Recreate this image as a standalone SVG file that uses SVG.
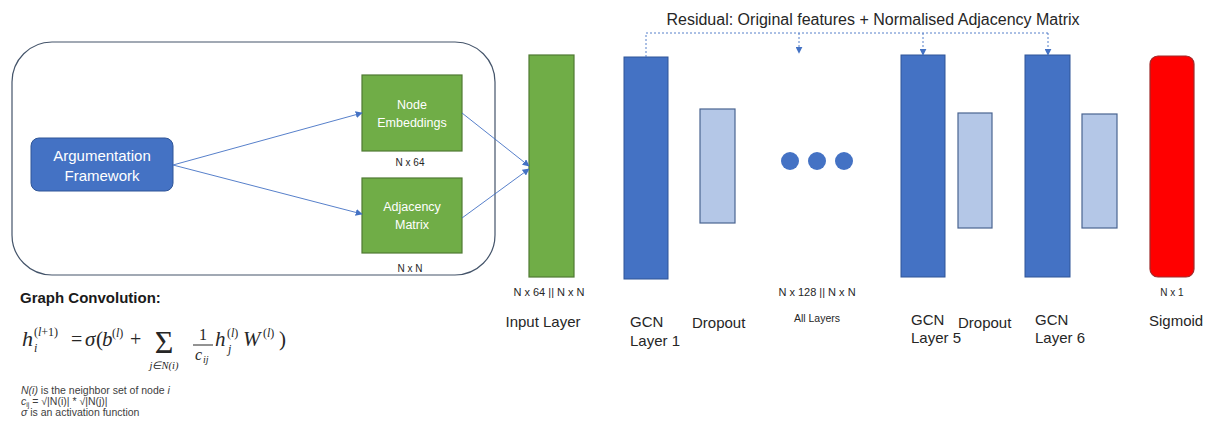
<svg xmlns="http://www.w3.org/2000/svg" width="1207" height="424" viewBox="0 0 1207 424">
<style>
.lbl{font-family:"Liberation Sans",Arial,sans-serif;fill:#262626}
.w{font-family:"Liberation Sans",Arial,sans-serif;fill:#ffffff;text-anchor:middle}
.blue{fill:#4472c4;stroke:#2f5597;stroke-width:1}
.light{fill:#b4c7e7;stroke:#4a6491;stroke-width:1.2}
.green{fill:#70ad47;stroke:#4f7a32;stroke-width:1.2}
.conn{stroke:#4472c4;stroke-width:0.9;fill:none}
.dash{stroke:#4472c4;stroke-width:0.9;fill:none;stroke-dasharray:2 2}
.m{font-family:"Liberation Serif","Times New Roman",serif;fill:#262626}
.mi{font-family:"Liberation Serif","Times New Roman",serif;font-style:italic;fill:#262626}
.s{font-family:"Liberation Sans",Arial,sans-serif;fill:#404040;font-size:10.5px}
</style>
<defs>
<marker id="ah" viewBox="0 0 10 10" refX="9" refY="5" markerWidth="7" markerHeight="7" orient="auto" markerUnits="userSpaceOnUse">
<path d="M0,0 L10,5 L0,10 z" fill="#4472c4"/>
</marker>
</defs>
<rect width="1207" height="424" fill="#ffffff"/>

<g id="container">
<rect x="12" y="42" width="483" height="233" rx="40" ry="40" fill="none" stroke="#44546a" stroke-width="1.2"/>
</g>

<g id="argumentation-framework">
<rect x="31" y="138" width="142" height="53" rx="8" ry="8" fill="#4472c4" stroke="#2f5597" stroke-width="1"/>
<text class="w" x="102" y="161" font-size="15">Argumentation</text>
<text class="w" x="102" y="181" font-size="15">Framework</text>
</g>

<g id="node-embeddings">
<rect x="362" y="75" width="100" height="76" class="green"/>
<text class="w" x="412" y="109" font-size="12.5">Node</text>
<text class="w" x="412" y="127" font-size="12.5">Embeddings</text>
<text class="lbl" x="410" y="166" font-size="10" text-anchor="middle">N x 64</text>
</g>

<g id="adjacency-matrix">
<rect x="362" y="178" width="100" height="75" class="green"/>
<text class="w" x="412" y="211" font-size="12.5">Adjacency</text>
<text class="w" x="412" y="229" font-size="12.5">Matrix</text>
<text class="lbl" x="410" y="272" font-size="10" text-anchor="middle">N x N</text>
</g>

<g id="input-layer">
<rect x="529" y="55" width="45" height="222" class="green"/>
<text class="lbl" x="549" y="296" font-size="11" text-anchor="middle">N x 64 || N x N</text>
<text class="lbl" x="543" y="327" font-size="15" text-anchor="middle">Input Layer</text>
</g>

<g id="gcn-layer-1">
<rect x="624" y="57" width="44" height="222" class="blue"/>
<text class="lbl" x="630" y="327" font-size="15">GCN</text>
<text class="lbl" x="630" y="346" font-size="15">Layer 1</text>
</g>

<g id="dropout-1">
<rect x="700" y="109" width="35" height="114" class="light"/>
<text class="lbl" x="692" y="328" font-size="15">Dropout</text>
</g>

<g id="all-layers">
<circle cx="790" cy="161" r="9" fill="#4472c4"/>
<circle cx="817" cy="161" r="9" fill="#4472c4"/>
<circle cx="844" cy="161" r="9" fill="#4472c4"/>
<text class="lbl" x="817" y="296" font-size="11" text-anchor="middle">N x 128 || N x N</text>
<text class="lbl" x="817" y="322" font-size="10.5" text-anchor="middle">All Layers</text>
</g>

<g id="gcn-layer-5">
<rect x="901" y="55" width="44" height="222" class="blue"/>
<text class="lbl" x="911" y="325" font-size="15">GCN</text>
<text class="lbl" x="911" y="343" font-size="15">Layer 5</text>
</g>

<g id="dropout-5">
<rect x="958" y="113" width="34" height="115" class="light"/>
<text class="lbl" x="958" y="328" font-size="15">Dropout</text>
</g>

<g id="gcn-layer-6">
<rect x="1025" y="55" width="45" height="222" class="blue"/>
<text class="lbl" x="1035" y="325" font-size="15">GCN</text>
<text class="lbl" x="1035" y="343" font-size="15">Layer 6</text>
</g>

<g id="dropout-6">
<rect x="1082" y="114" width="35" height="114" class="light"/>
</g>

<g id="sigmoid">
<rect x="1150" y="56" width="44" height="221" rx="8" ry="8" fill="#ff0000" stroke="#a02b2b" stroke-width="1.2"/>
<text class="lbl" x="1172" y="296" font-size="10" text-anchor="middle">N x 1</text>
<text class="lbl" x="1149" y="326" font-size="15">Sigmoid</text>
</g>

<g id="residual">
<text class="lbl" x="873" y="25" font-size="16" text-anchor="middle">Residual: Original features + Normalised Adjacency Matrix</text>
</g>

<g id="connectors">
<line class="conn" x1="173" y1="165" x2="362" y2="113" marker-end="url(#ah)"/>
<line class="conn" x1="173" y1="165" x2="362" y2="214" marker-end="url(#ah)"/>
<line class="conn" x1="462" y1="113" x2="529" y2="166" marker-end="url(#ah)"/>
<line class="conn" x1="462" y1="218" x2="529" y2="169" marker-end="url(#ah)"/>
<path class="dash" d="M646,57 L646,33 L1048,33"/>
<line class="dash" x1="799" y1="33" x2="799" y2="53" marker-end="url(#ah)"/>
<line class="dash" x1="923" y1="33" x2="923" y2="55" marker-end="url(#ah)"/>
<line class="dash" x1="1048" y1="33" x2="1048" y2="55" marker-end="url(#ah)"/>
</g>

<g id="graph-convolution">
<text x="20" y="303" font-family="Liberation Sans,Arial,sans-serif" font-weight="bold" font-size="15" fill="#1a1a1a">Graph Convolution:</text>
<text class="mi" x="22" y="346" font-size="22">h</text>
<text class="m" x="34" y="336" font-size="12">(<tspan font-style="italic">l</tspan>+1)</text>
<text class="mi" x="34" y="352" font-size="12">i</text>
<text class="m" x="71" y="346" font-size="20">=</text>
<text class="mi" x="85" y="346" font-size="21">σ</text>
<text class="m" x="96" y="346" font-size="21">(</text>
<text class="mi" x="102" y="346" font-size="21">b</text>
<text class="m" x="112" y="337" font-size="12">(<tspan font-style="italic">l</tspan>)</text>
<text class="m" x="130" y="346" font-size="20">+</text>
<text class="m" x="164" y="353" font-size="32" text-anchor="middle">Σ</text>
<text class="mi" x="164" y="369" font-size="10.5" text-anchor="middle">j∈N(i)</text>
<text class="m" x="203" y="340" font-size="16" text-anchor="middle">1</text>
<line x1="193" y1="345" x2="213" y2="345" stroke="#262626" stroke-width="1"/>
<text class="mi" x="195" y="360" font-size="16">c</text>
<text class="mi" x="203" y="363" font-size="10">ij</text>
<text class="mi" x="215" y="346" font-size="21">h</text>
<text class="m" x="227" y="337" font-size="12">(<tspan font-style="italic">l</tspan>)</text>
<text class="mi" x="228" y="353" font-size="12">j</text>
<text class="mi" x="243" y="346" font-size="21">W</text>
<text class="m" x="263" y="337" font-size="12">(<tspan font-style="italic">l</tspan>)</text>
<text class="m" x="279" y="346" font-size="21">)</text>
<text class="s" x="21" y="394"><tspan font-style="italic">N(i)</tspan> is the neighbor set of node <tspan font-style="italic">i</tspan></text>
<text class="s" x="21" y="405"><tspan font-style="italic">c</tspan><tspan font-size="7" dy="2">ij</tspan><tspan dy="-2"> = √|N(i)| * √|N(j)|</tspan></text>
<text class="s" x="21" y="416"><tspan font-style="italic">σ</tspan> is an activation function</text>
</g>
</svg>
